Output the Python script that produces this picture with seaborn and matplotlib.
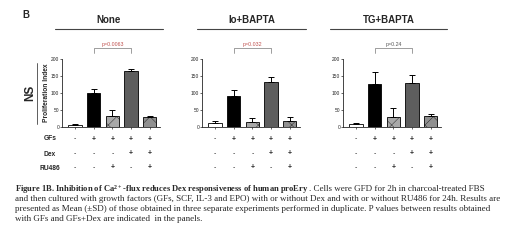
import matplotlib
matplotlib.use("Agg")
import matplotlib.pyplot as plt
import seaborn as sns
import pandas as pd

# values (mean and SD, proliferation index)
panels = ["None", "Io+BAPTA", "TG+BAPTA"]
none_mean = [7, 101, 33, 166, 28]
none_sd = [2, 10, 17, 5, 4]
io_mean = [12, 91, 15, 132, 17]
io_sd = [7, 19, 11, 16, 11]
tg_mean = [9, 125, 28, 129, 31]
tg_sd = [3, 37, 29, 23, 7]
p_labels = ["p=0.0063", "p=0.032", "p=0.24"]
p_colors = ["#c0504d", "#c0504d", "#555555"]

row_names = ["GFs", "Dex", "RU486"]
gfs = ["-", "+", "+", "+", "+"]
dex = ["-", "-", "-", "+", "+"]
ru486 = ["-", "-", "+", "-", "+"]
groups = ["g1", "g2", "g3", "g4", "g5"]

bar_colors = ["white", "black", "#a8a8a8", "#5e5e5e", "#909090"]
bar_hatch = [None, None, "xx", None, "xx"]

sns.set_style("ticks")
plt.rcParams["font.family"] = ["Liberation Sans", "DejaVu Sans"]
plt.rcParams["hatch.linewidth"] = 0.25
plt.rcParams["mathtext.fontset"] = "custom"
plt.rcParams["mathtext.rm"] = "Liberation Serif"
plt.rcParams["mathtext.bf"] = "Liberation Serif:bold"
plt.rcParams["mathtext.default"] = "regular"

W, H = 520, 243
fig = plt.figure(figsize=(W / 100, H / 100), dpi=100)

def fx(px):
    return px / W

def fy(py):
    return 1 - py / H

ax_left = [62, 202, 343]
ax_w = 98
y0_px, y200_px = 127, 59
row_px = [139, 154, 168]
means = [none_mean, io_mean, tg_mean]
sds = [none_sd, io_sd, tg_sd]
title_lines = [(55, 163), (197, 306), (330, 447)]

for k in range(3):
    ax = fig.add_axes([fx(ax_left[k]), fy(y0_px), fx(ax_w), fy(y200_px) - fy(y0_px)])
    df = pd.DataFrame({"group": groups, "value": means[k]})
    sns.barplot(data=df, x="group", y="value", hue="group", palette=bar_colors,
                legend=False, width=0.72, edgecolor="black", linewidth=0.6, ax=ax)
    for bar, h in zip(ax.patches, bar_hatch):
        if h:
            bar.set_hatch(h)
    ax.errorbar(range(5), means[k], yerr=[[0] * 5, sds[k]], fmt="none",
                ecolor="black", elinewidth=0.7, capsize=2.2, capthick=0.7)
    ax.set_xlim(-0.7, 4.55)
    ax.set_ylim(0, 200)
    ax.set_yticks([0, 50, 100, 150, 200])
    ax.tick_params(axis="y", labelsize=3.5, length=1.5, width=0.5, pad=0.5)
    ax.tick_params(axis="x", labelbottom=False, length=1.5, width=0.5)
    ax.set_xlabel("")
    ax.set_ylabel("")
    sns.despine(ax=ax)
    for s in ["left", "bottom"]:
        ax.spines[s].set_linewidth(0.6)

    # p-value bracket
    ax.plot([1, 1, 3, 3], [218, 232, 232, 218], color="#777777", lw=0.5, clip_on=False)
    ax.text(2, 234, p_labels[k], color=p_colors[k], fontsize=3.8,
            ha="center", va="bottom", clip_on=False)

    # sign rows under the bars
    for r, row in enumerate([gfs, dex, ru486]):
        for i, s in enumerate(row):
            ax.annotate(s, xy=(i, 0), xycoords="data",
                        xytext=(0, -(row_px[r] - y0_px) * 0.72),
                        textcoords="offset points", ha="center", va="center",
                        fontsize=5, fontweight="bold" if s == "+" else "normal")

    # panel title with rule below
    x1, x2 = title_lines[k]
    fig.text(fx((x1 + x2) / 2), fy(20), panels[k], fontsize=7, fontweight="bold",
             ha="center", va="center")
    fig.add_artist(plt.Line2D([fx(x1), fx(x2)], [fy(29), fy(29)], color="#444444", lw=0.8))

for r, name in enumerate(row_names):
    fig.text(fx(50), fy(row_px[r]), name, fontsize=4.8, fontweight="bold",
             ha="center", va="center")

fig.text(fx(26), fy(15), "B", fontsize=7, fontweight="bold", ha="center", va="center")
fig.text(fx(30), fy(93), "NS", fontsize=8.5, fontweight="bold", rotation=90,
         ha="center", va="center")
fig.add_artist(plt.Line2D([fx(37), fx(37)], [fy(63), fy(124)], color="#444444", lw=0.6))
fig.text(fx(46), fy(93), "Proliferation Index", fontsize=4.8, fontweight="bold",
         rotation=90, ha="center", va="center")

# caption
cap_font = ["Liberation Serif", "DejaVu Serif"]
cap_size = 6.5
t1 = fig.text(fx(15), fy(189),
              "Figure 1B. Inhibition of Ca$^{2+}$-flux reduces Dex responsiveness of human proEry",
              family=cap_font, fontsize=6.1, fontweight="bold", va="center")
plt.annotate(". Cells were GFD for 2h in charcoal-treated FBS", xy=(1, 0.5), xycoords=t1,
             va="center", ha="left", family=cap_font, fontsize=cap_size,
             annotation_clip=False)
cap_lines = [
    "and then cultured with growth factors (GFs, SCF, IL-3 and EPO) with or without Dex and with or without RU486 for 24h. Results are",
    "presented as Mean (\u00b1SD) of those obtained in three separate experiments performed in duplicate. P values between results obtained",
    "with GFs and GFs+Dex are indicated  in the panels.",
]
for i, line in enumerate(cap_lines):
    fig.text(fx(15), fy(199 + i * 10), line, family=cap_font, fontsize=cap_size, va="center")

fig.savefig("out.png", dpi=100)
